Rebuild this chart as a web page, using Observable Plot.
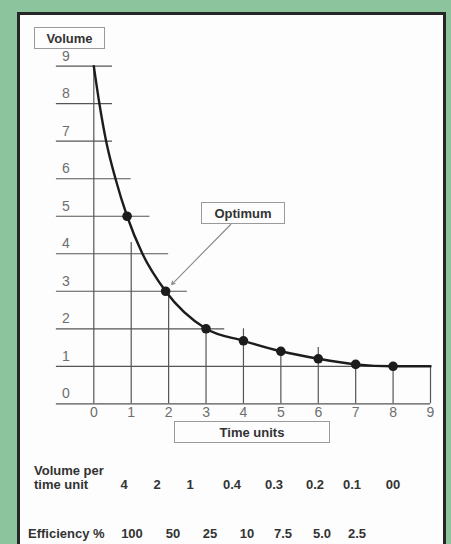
<!DOCTYPE html>
<html>
<head>
<meta charset="utf-8">
<script src="https://cdn.jsdelivr.net/npm/d3@7"></script>
<script src="https://cdn.jsdelivr.net/npm/@observablehq/plot@0.6"></script>
<style>
  html, body { margin: 0; padding: 0; }
  body { width: 451px; height: 544px; background: #8cc49e; position: relative; overflow: hidden;
         font-family: "Liberation Sans", Arial, Helvetica, sans-serif; }
  #frame { position: absolute; left: 17px; top: 12px; width: 429px; height: 600px; box-sizing: border-box;
           border: 3px solid #262626; background: #fdfdfd; }
  #chart { position: absolute; left: 0; top: 0; }
  .box { position: absolute; box-sizing: border-box; border: 1.5px solid #9a9a9a; background: #fdfdfd;
         font-weight: bold; font-size: 13px; color: #333; display: flex; align-items: center; justify-content: center; }
  .t { position: absolute; font-weight: bold; font-size: 13px; color: #333; line-height: 14px; white-space: nowrap; }
</style>
</head>
<body>
<div id="frame"></div>
<div id="chart"></div>
<script>
// ---- data ----
const xTicks = [0, 1, 2, 3, 4, 5, 6, 7, 8, 9];
const yTicks = [0, 1, 2, 3, 4, 5, 6, 7, 8, 9];
// horizontal guide lines: level and how far right they reach (time units)
const gridLevels = [0, 1, 2, 3, 4, 5, 6, 7, 8, 9];
const gridReach  = [9, 9, 3.5, 2.5, 2, 1.5, 1, 0.5, 0.5, 0.5];
// vertical guide lines: time and how high they reach (volume)
const vLineTimes = [0, 1, 2, 3, 4, 5, 6, 7, 8, 9];
const vLineTops  = [9, 4.3, 3, 2, 2, 1.4, 1.5, 1.05, 1, 1];
// the volume curve
const curveTime   = [0, 0.15, 0.33, 0.58, 0.89, 1.3, 1.92, 3, 4, 5, 6, 7, 8, 9];
const curveVolume = [9, 8, 7, 6, 5, 4, 3, 2, 1.68, 1.4, 1.2, 1.05, 1.0, 1.0];
// marked points
const pointTime   = [0.89, 1.92, 3, 4, 5, 6, 7, 8];
const pointVolume = [5, 3, 2, 1.68, 1.4, 1.2, 1.05, 1.0];
// table rows
const volumePerUnit = ["4", "2", "1", "0.4", "0.3", "0.2", "0.1", "00"];
const efficiency    = ["100", "50", "25", "10", "7.5", "5.0", "2.5"];
const rowLabels = { volume: ["Volume per", "time unit"], efficiency: "Efficiency %" };
const annotation = { text: "Optimum", from: [3.66, 4.78], to: [2.08, 3.18] };

// ---- build ----
const hLines = gridLevels.map((y, i) => ({ y, x2: gridReach[i] }));
const vLines = vLineTimes.map((x, i) => ({ x, y2: vLineTops[i] }));
const curve = curveTime.map((x, i) => ({ x, y: curveVolume[i] }));
const points = pointTime.map((x, i) => ({ x, y: pointVolume[i] }));

const gridColor = "#555";
const chart = Plot.plot({
  width: 451,
  height: 544,
  marginLeft: 93.3,
  marginRight: 21,
  marginTop: 65.7,
  marginBottom: 140.7,
  style: { background: "transparent", fontFamily: "'Liberation Sans', Arial, sans-serif", fontSize: "14px", color: "#222" },
  x: { domain: [0, 9] },
  y: { domain: [0, 9] },
  marks: [
    Plot.ruleY(hLines, { y: "y", x1: -1, x2: "x2", stroke: gridColor, strokeWidth: 1.2 }),
    Plot.ruleX(vLines, { x: "x", y1: 0, y2: "y2", stroke: gridColor, strokeWidth: 1.2 }),
    Plot.line(curve, { x: "x", y: "y", curve: "monotone-x", stroke: "#1c1c1c", strokeWidth: 2.4 }),
    Plot.dot(points, { x: "x", y: "y", r: 4.8, fill: "#1c1c1c", stroke: "none" }),
    Plot.arrow([annotation], { x1: d => d.from[0], y1: d => d.from[1], x2: d => d.to[0], y2: d => d.to[1],
      stroke: "#888", strokeWidth: 1.1, headLength: 5 }),
    Plot.axisX({ ticks: xTicks, tickSize: 0, tickPadding: 3, label: null, color: "#6e6e6e", fontSize: 14 }),
    Plot.axisY({ ticks: yTicks, tickSize: 0, tickPadding: 28, textAnchor: "middle", dy: -10, label: null, color: "#6e6e6e", fontSize: 14 })
  ]
});
document.getElementById("chart").appendChild(chart);

// ---- HTML labels (boxes and table) ----
function addBox(text, left, top, w, h) {
  const d = document.createElement("div");
  d.className = "box";
  d.style.left = left + "px"; d.style.top = top + "px";
  d.style.width = w + "px"; d.style.height = h + "px";
  d.textContent = text;
  document.body.appendChild(d);
}
function addText(text, x, cy, anchor) {
  const d = document.createElement("div");
  d.className = "t";
  d.textContent = text;
  d.style.top = (cy - 7) + "px";
  document.body.appendChild(d);
  const w = d.getBoundingClientRect().width;
  d.style.left = (anchor === "middle" ? x - w / 2 : x) + "px";
}
addBox("Volume", 34, 27, 71, 22);
addBox("Time units", 174, 421, 156, 22);
addBox(annotation.text, 201, 202, 84, 22);

const volCols = [124, 157, 190, 232, 274, 315, 352, 393];
const effCols = [132, 173, 210, 247, 283, 322, 357];
addText(rowLabels.volume[0], 34, 471);
addText(rowLabels.volume[1], 34, 485);
volumePerUnit.forEach((v, i) => addText(v, volCols[i], 485, "middle"));
addText(rowLabels.efficiency, 28, 534);
efficiency.forEach((v, i) => addText(v, effCols[i], 534, "middle"));
</script>
</body>
</html>
